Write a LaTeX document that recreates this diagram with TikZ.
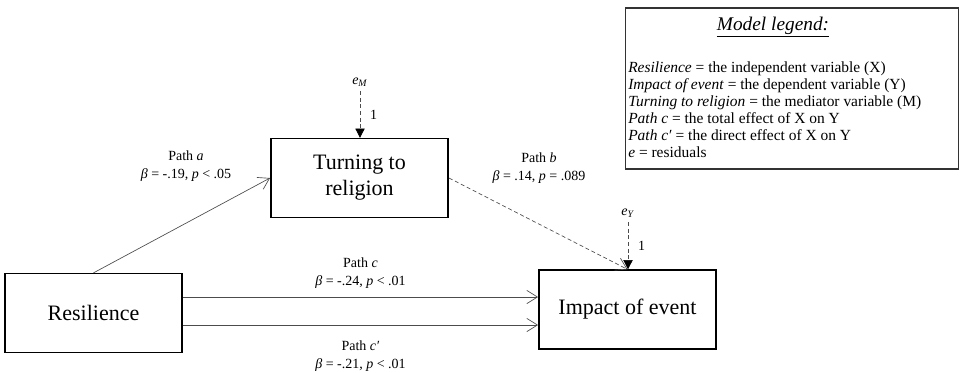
\documentclass[tikz,border=0pt]{standalone}
\usepackage{fontspec}
\setmainfont{Liberation Serif}
\usetikzlibrary{arrows.meta}

\begin{document}
\begin{tikzpicture}[x=0.75pt,y=-0.75pt,
	var/.style={draw,line width=1.2pt,minimum width=133pt,minimum height=59pt,align=center,font=\fontsize{16.5}{19.5}\selectfont},
	lab/.style={align=center,font=\fontsize{10.5}{13.5}\selectfont},
	eff/.style={draw=black!70,line width=0.5pt,-{Straight Barb[length=8pt,width=10pt]}},
	err/.style={draw=black!70,line width=0.5pt,dash pattern=on 3pt off 2pt,-{Triangle[length=7pt,width=7pt,color=black]}}]
	\useasboundingbox (0,0) rectangle (963,372);
	\node[var] (res) at (93.5,313) {Resilience};
	\node[var] (rel) at (359.5,178) {Turning to\\religion};
	\node[var] (imp) at (627.5,309.5) {Impact of event};
	\node[lab] (em) at (360,82) {\textit{e}\textsubscript{\textit{M}}};
	\node[lab] (ey) at (628,213) {\textit{e}\textsubscript{\textit{Y}}};
	\draw[err] (em.south) -- (em.south |- rel.north) node[midway,right=4pt,lab] (em1) {1};
	\draw[err] (ey.south) -- (ey.south |- imp.north) node[midway,right=4pt,lab] (ey1) {1};
	\draw[eff] (res.north) -- (rel.west);
	\draw[eff,dash pattern=on 3pt off 2pt] (rel.east) -- (imp.north);
	\draw[eff] ([yshift=12pt]res.east) coordinate (c1) -- (c1 -| imp.west) node[midway,above=3pt,lab] (labc) {Path \textit{c}\\\textit{β} = -.24, \textit{p} < .01};
	\draw[eff] ([yshift=-9pt]res.east) coordinate (c2) -- (c2 -| imp.west) node[midway,below=8pt,lab] (labcp) {Path \textit{c′}\\\textit{β} = -.21, \textit{p} < .01};
	\node[lab] (laba) at (186,166) {Path \textit{a}\\\textit{β} = -.19, \textit{p} < .05};
	\node[lab] (labb) at (539,168) {Path \textit{b}\\\textit{β} = .14, \textit{p} = .089};
	\node[draw=black!80,line width=1.1pt,minimum width=250pt,minimum height=121pt] (legend) at (792,88.5) {};
	\node[font=\fontsize{14.5}{17}\selectfont] (legtitle) at (773,27) {\underline{\textit{Model legend:}}};
	\node[anchor=west,inner sep=0pt,align=left,font=\fontsize{11.6}{12.75}\selectfont] (legtext) at (628,110) {\textit{Resilience} = the independent variable (X)\\
		\textit{Impact of event} = the dependent variable (Y)\\
		\textit{Turning to religion} = the mediator variable (M)\\
		\textit{Path c} = the total effect of X on Y\\
		\textit{Path c′} = the direct effect of X on Y\\
		\textit{e} = residuals};
\end{tikzpicture}
\end{document}
